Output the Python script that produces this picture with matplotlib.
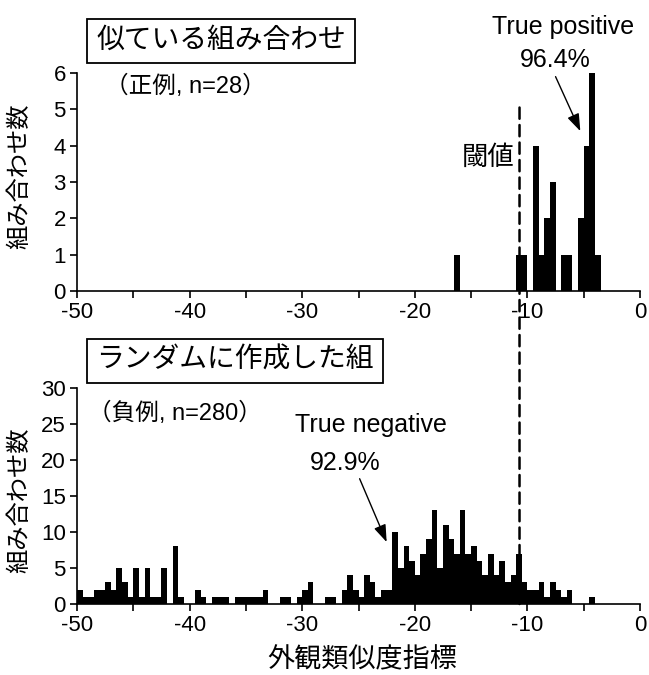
import numpy as np
import matplotlib
matplotlib.use("Agg")
import matplotlib.pyplot as plt
from matplotlib.patches import ConnectionPatch

plt.rcParams['font.family'] = ['Liberation Sans', 'Noto Sans CJK JP']

# ---------------- data ----------------
bin_width = 0.5
# positive examples (similar pairs): left edges of non-empty bins and counts
pos_bins = [-16.5, -11.0, -10.5, -9.5, -9.0, -8.5, -8.0, -7.0, -6.5, -5.5, -5.0, -4.5, -4.0]
pos_counts = [1, 1, 1, 4, 1, 2, 3, 1, 1, 2, 4, 6, 1]

# negative examples (random pairs): counts for bins from -50 to 0, width 0.5
neg_start = -50.0
neg_counts = [
    2, 1, 1, 2, 2, 3, 2, 5, 3, 1,      # -50 .. -45.5
    5, 1, 5, 1, 1, 5, 0, 8, 1, 0,      # -45 .. -40.5
    0, 2, 1, 0, 1, 1, 1, 0, 1, 1,      # -40 .. -35.5
    1, 1, 1, 2, 0, 0, 1, 1, 0, 1,      # -35 .. -30.5
    2, 3, 0, 0, 1, 1, 0, 2, 4, 2,      # -30 .. -25.5
    1, 4, 3, 1, 2, 2, 10, 5, 8, 6,     # -25 .. -20.5
    4, 7, 9, 13, 5, 11, 9, 7, 13, 7,   # -20 .. -15.5
    8, 6, 4, 7, 4, 6, 3, 4, 7, 3,      # -15 .. -10.5
    2, 2, 3, 1, 3, 2, 1, 2, 0, 0,      # -10 .. -5.5
    0, 1, 0, 0, 0, 0, 0, 0, 0, 0,      # -5 .. -0.5
]

threshold = -10.7
xticks = [-50, -45, -40, -35, -30, -25, -20, -15, -10, -5, 0]
xticklabels = ['-50', '', '-40', '', '-30', '', '-20', '', '-10', '', '0']
pos_yticks = [0, 1, 2, 3, 4, 5, 6]
neg_yticks = [0, 5, 10, 15, 20, 25, 30]

title_pos = '似ている組み合わせ'
title_neg = 'ランダムに作成した組'
sub_pos = '（正例, n=28）'
sub_neg = '（負例, n=280）'
ylabel = '組み合わせ数'
xlabel = '外観類似度指標'
tp_label = ['True positive', '96.4%']
tn_label = ['True negative', '92.9%']
thr_label = '閾値'

# ---------------- figure ----------------
W, H = 649, 675
fig = plt.figure(figsize=(W / 100, H / 100), dpi=100)

def fx(px):
    return px / W

def fy(py):
    return 1 - py / H

ax1 = fig.add_axes([fx(77), fy(291), fx(640) - fx(77), fy(73) - fy(291)])
ax2 = fig.add_axes([fx(77), fy(604), fx(640) - fx(77), fy(388) - fy(604)])

neg_edges = neg_start + bin_width * np.arange(len(neg_counts))

ax1.bar(pos_bins, pos_counts, width=bin_width, align='edge', color='black', linewidth=0)
ax2.bar(neg_edges, neg_counts, width=bin_width, align='edge', color='black', linewidth=0)

for ax, yt in ((ax1, pos_yticks), (ax2, neg_yticks)):
    ax.set_xlim(-50, 0)
    ax.set_ylim(yt[0], yt[-1])
    ax.set_yticks(yt)
    ax.set_xticks(xticks)
    ax.set_xticklabels(xticklabels)
    for s in ('top', 'right'):
        ax.spines[s].set_visible(False)
    for s in ('left', 'bottom'):
        ax.spines[s].set_linewidth(1.2)
    ax.tick_params(direction='out', length=5, width=1.2, labelsize=16, pad=3)
    ax.set_facecolor('none')

# threshold dashed line across both panels
con = ConnectionPatch(xyA=(threshold, 5.05), coordsA=ax1.transData,
                      xyB=(threshold, 0), coordsB=ax2.transData,
                      linestyle=(0, (4.5, 2.5)), linewidth=1.8, color='black', zorder=10)
fig.add_artist(con)

# title boxes
box = dict(boxstyle='square,pad=0.33', facecolor='white', edgecolor='black', linewidth=1.3)
fig.text(fx(221), fy(41), title_pos, fontsize=20, ha='center', va='center', bbox=box)
fig.text(fx(235), fy(361), title_neg, fontsize=20, ha='center', va='center', bbox=box)

# subtitles
ax1.text(-40.4, 5.62, sub_pos, fontsize=17, ha='center', va='center')
ax2.text(-41.3, 26.5, sub_neg, fontsize=17, ha='center', va='center')

# axis labels
fig.text(fx(20), fy(176), ylabel, fontsize=17.5, rotation=90, ha='center', va='center')
fig.text(fx(20), fy(500), ylabel, fontsize=17.5, rotation=90, ha='center', va='center')
fig.text(fx(362), fy(660), xlabel, fontsize=19.5, ha='center', va='center')

# threshold label
ax1.text(-13.45, 3.66, thr_label, fontsize=19, ha='center', va='center')

# annotations
arrow = dict(arrowstyle='-|>,head_length=0.7,head_width=0.25', color='black', lw=1,
             mutation_scale=15, shrinkA=0, shrinkB=0)
ax1.annotate('', xy=(-5.3, 4.4), xytext=(-7.5, 5.9), arrowprops=arrow, annotation_clip=False)
ax1.text(-6.8, 7.27, tp_label[0], fontsize=18, ha='center', va='center', clip_on=False)
ax1.text(-7.5, 6.36, tp_label[1], fontsize=18, ha='center', va='center', clip_on=False)

ax2.annotate('', xy=(-22.5, 8.6), xytext=(-24.9, 17.4), arrowprops=arrow, annotation_clip=False)
ax2.text(-23.9, 24.8, tn_label[0], fontsize=18, ha='center', va='center')
ax2.text(-26.2, 19.6, tn_label[1], fontsize=18, ha='center', va='center')

fig.savefig('out.png', dpi=100)
